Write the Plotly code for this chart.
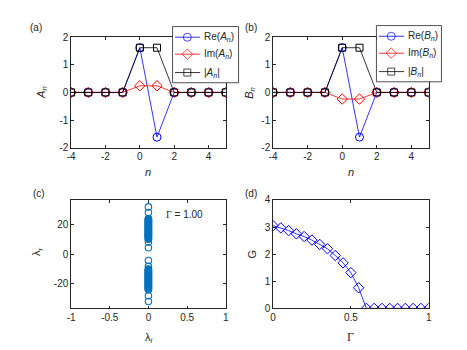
import plotly.graph_objects as go

# ---------------- data ----------------
n = [-4, -3, -2, -1, 0, 1, 2, 3, 4, 5]
re_A = [0, 0, 0, 0, 1.62, -1.62, 0, 0, 0, 0]
im_A = [0, 0, 0, 0, 0.24, 0.24, 0, 0, 0, 0]
abs_A = [0, 0, 0, 0, 1.62, 1.62, 0, 0, 0, 0]
re_B = [0, 0, 0, 0, 1.62, -1.62, 0, 0, 0, 0]
im_B = [0, 0, 0, 0, -0.24, -0.24, 0, 0, 0, 0]
abs_B = [0, 0, 0, 0, 1.62, 1.62, 0, 0, 0, 0]

lam_r_pos = [31.8, 28.0, 24.0, 23.6, 23.2, 22.8, 22.4, 22.0, 21.6, 21.2,
             20.8, 20.4, 20.0, 19.6, 19.2, 18.8, 18.4, 18.0, 17.6, 17.2,
             16.8, 16.4, 16.0, 15.6, 15.2, 14.8, 14.4, 14.0, 13.6, 13.2,
             12.8, 12.4, 12.0, 11.6, 11.2, 10.8, 10.4, 10.0, 8.2, 4.3]
lam_r = lam_r_pos + [-v for v in lam_r_pos]
lam_i = [0.0] * len(lam_r)

gamma = [0, 0.05, 0.1, 0.15, 0.2, 0.25, 0.3, 0.35, 0.4, 0.45, 0.5,
         0.55, 0.6, 0.65, 0.7, 0.75, 0.8, 0.85, 0.9, 0.95, 1.0]
G = [3.05, 2.97, 2.87, 2.75, 2.65, 2.52, 2.36, 2.2, 1.95, 1.68, 1.32,
     0.76, 0, 0, 0, 0, 0, 0, 0, 0, 0]

nticks = [-4, -2, 0, 2, 4]
nticklabels = ["-4", "-2", "0", "2", "4"]
amp_ticks = [-2, -1, 0, 1, 2]
amp_ticklabels = ["-2", "-1", "0", "1", "2"]
lam_i_ticks = [-1, -0.5, 0, 0.5, 1]
lam_i_ticklabels = ["-1", "-0.5", "0", "0.5", "1"]
lam_r_ticks = [-20, 0, 20]
lam_r_ticklabels = ["-20", "0", "20"]
gamma_ticks = [0, 0.5, 1]
gamma_ticklabels = ["0", "0.5", "1"]
G_ticks = [0, 1, 2, 3, 4]
G_ticklabels = ["0", "1", "2", "3", "4"]

# ---------------- layout helpers ----------------
W, H = 467, 350
def xd(a, b):
    return [a / W, b / W]
def yd(top, bot):
    return [1 - bot / H, 1 - top / H]

FONT = "Arial, Liberation Sans, sans-serif"
TICKFONT = dict(family=FONT, size=10, color="#262626")
AXC = "#262626"

def axis(domain, rng, tickvals, ticktext, anchor):
    return dict(domain=domain, range=rng, tickvals=tickvals, ticktext=ticktext,
                ticks="inside", ticklen=3, tickwidth=0.6, tickcolor=AXC,
                showline=True, linecolor=AXC, linewidth=0.6, mirror="ticks",
                showgrid=False, zeroline=False, tickfont=TICKFONT,
                anchor=anchor, fixedrange=True)

fig = go.Figure()

BLUE, RED, BLACK = "#0000FF", "#FF0000", "#000000"
styles = [(BLUE, "circle-open", 8), (RED, "diamond-open", 8), (BLACK, "square-open", 7)]

def lines(x, y, style, xa, ya):
    color, symbol, size = style
    fig.add_trace(go.Scatter(
        x=x, y=y, mode="lines+markers", xaxis=xa, yaxis=ya, showlegend=False,
        line=dict(color=color, width=0.8),
        marker=dict(symbol=symbol, size=size, color=color,
                    line=dict(color=color, width=1))))

for y, st in zip([re_A, im_A, abs_A], styles):
    lines(n, y, st, "x", "y")
for y, st in zip([re_B, im_B, abs_B], styles):
    lines(n, y, st, "x2", "y2")

# panel (c)
fig.add_trace(go.Scatter(
    x=lam_i, y=lam_r, mode="markers", xaxis="x3", yaxis="y3", showlegend=False,
    marker=dict(symbol="circle-open", size=6.5, color="#0072BD",
                line=dict(color="#0072BD", width=1.1))))

# panel (d)
fig.add_trace(go.Scatter(
    x=gamma, y=G, mode="lines+markers", xaxis="x4", yaxis="y4", showlegend=False,
    line=dict(color=BLUE, width=0.8),
    marker=dict(symbol="diamond-open", size=8, color=BLUE,
                line=dict(color=BLUE, width=1))))

# ---------------- custom legends (overlay subplot in pixel units) ----------------
def legend_box(x0, x1, y0, y1, names):
    fig.add_trace(go.Scatter(
        x=[x0, x1, x1, x0, x0], y=[y0, y0, y1, y1, y0], mode="lines",
        fill="toself", fillcolor="white", line=dict(color=AXC, width=0.8),
        xaxis="x5", yaxis="y5", showlegend=False, hoverinfo="skip"))
    rows = [y0 + 11, y0 + 28.5, y0 + 47.5]
    for yy, st, name in zip(rows, styles, names):
        color, symbol, size = st
        fig.add_trace(go.Scatter(
            x=[x0 + 2.5, x0 + 15, x0 + 28], y=[yy, yy, yy], mode="lines+markers",
            line=dict(color=color, width=0.8),
            marker=dict(symbol=symbol, size=[0, size, 0], color=color,
                        line=dict(color=color, width=1)),
            xaxis="x5", yaxis="y5", showlegend=False, hoverinfo="skip"))
        fig.add_annotation(x=(x0 + 30) / W, y=1 - yy / H, xref="paper", yref="paper",
                           text=name, showarrow=False, xanchor="left", yanchor="middle",
                           font=dict(family=FONT, size=10, color="#262626"))

top = yd(25, 139)
bot = yd(193, 305)
xa = xd(60, 217)
xb = xd(265, 423)

fig.update_layout(
    width=W, height=H, margin=dict(l=0, r=0, t=0, b=0),
    paper_bgcolor="white", plot_bgcolor="rgba(0,0,0,0)",
    font=dict(family=FONT, size=10, color="#262626"),
    showlegend=False,
    xaxis=axis(xa, [-4, 5], nticks, nticklabels, "y"),
    yaxis=axis(top, [-2, 2], amp_ticks, amp_ticklabels, "x"),
    xaxis2=axis(xb, [-4, 5], nticks, nticklabels, "y2"),
    yaxis2=axis(top, [-2, 2], amp_ticks, amp_ticklabels, "x2"),
    xaxis3=axis(xa, [-1, 1], lam_i_ticks, lam_i_ticklabels, "y3"),
    yaxis3=axis(bot, [-36.5, 36.5], lam_r_ticks, lam_r_ticklabels, "x3"),
    xaxis4=axis(xb, [0, 1], gamma_ticks, gamma_ticklabels, "y4"),
    yaxis4=axis(bot, [0, 4], G_ticks, G_ticklabels, "x4"),
    xaxis5=dict(domain=[0, 1], range=[0, W], visible=False, fixedrange=True, anchor="y5"),
    yaxis5=dict(domain=[0, 1], range=[H, 0], visible=False, fixedrange=True, anchor="x5"),
)

legend_box(163, 230, 14, 72, ["Re(<i>A</i><sub><i>n</i></sub>)",
                              "Im(<i>A</i><sub><i>n</i></sub>)",
                              "|<i>A</i><sub><i>n</i></sub>|"])
legend_box(370, 436, 13, 71, ["Re(<i>B</i><sub><i>n</i></sub>)",
                              "Im(<i>B</i><sub><i>n</i></sub>)",
                              "|<i>B</i><sub><i>n</i></sub>|"])

SERIF = "Times New Roman, Liberation Serif, serif"
def ann(x, y, text, angle=0, size=10, family=FONT):
    fig.add_annotation(x=x / W, y=1 - y / H, xref="paper", yref="paper",
                       text=text, showarrow=False, textangle=angle,
                       font=dict(family=family, size=size, color="#262626"),
                       xanchor="center", yanchor="middle")

# panel labels
ann(24, 15, "(a)")
ann(243, 15, "(b)")
ann(27, 186, "(c)")
ann(243, 186, "(d)")
# axis titles
ann(138, 164, "<i>n</i>", size=11)
ann(344, 164, "<i>n</i>", size=11)
ann(31, 82, "<i>A</i><sub><i>n</i></sub>", angle=-90, size=11)
ann(242, 82, "<i>B</i><sub><i>n</i></sub>", angle=-90, size=11)
ann(139, 336, "λ<sub><i>i</i></sub>", size=11)
ann(26, 246, "λ<sub><i>r</i></sub>", angle=-90, size=11)
ann(344, 334, "Γ", size=12, family=SERIF)
ann(244, 249, "G", angle=-90, size=11)
ann(175, 208, "<span style='font-family:Times New Roman, Liberation Serif, serif'>Γ</span> = 1.00", size=10)

fig.write_html("out.html")
